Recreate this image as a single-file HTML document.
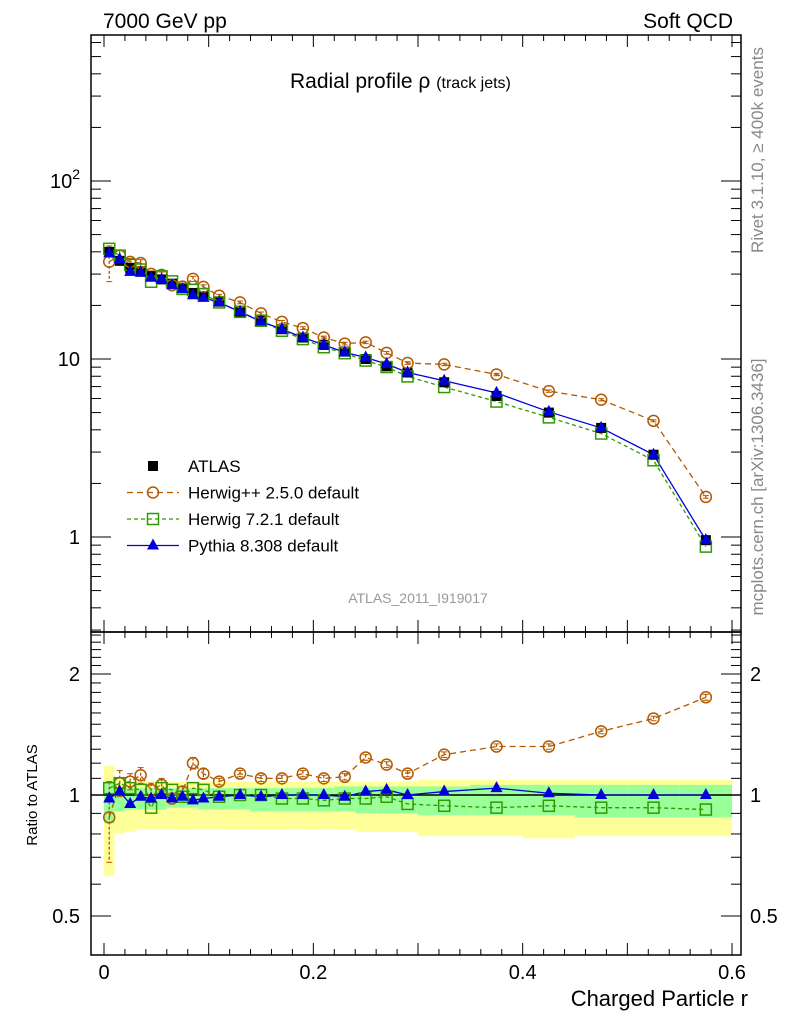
<!DOCTYPE html>
<html><head><meta charset="utf-8"><style>
body{margin:0;background:#fff}
svg{font-family:"Liberation Sans",sans-serif}
</style></head><body>
<svg id="c" width="786" height="1024" viewBox="0 0 786 1024" xmlns="http://www.w3.org/2000/svg">
<text x="103" y="28" font-size="21">7000 GeV pp</text>
<text x="733" y="28" font-size="21" text-anchor="end">Soft QCD</text>
<text x="290" y="88" font-size="21">Radial profile ρ <tspan font-size="16">(track jets)</tspan></text>
<text x="418" y="603" font-size="14" fill="#999" text-anchor="middle">ATLAS_2011_I919017</text>
<text transform="translate(763,150) rotate(-90)" font-size="17" fill="#888" text-anchor="middle">Rivet 3.1.10, ≥ 400k events</text>
<text transform="translate(763,487) rotate(-90)" font-size="17" fill="#888" text-anchor="middle">mcplots.cern.ch [arXiv:1306.3436]</text>
<text transform="translate(37,795) rotate(-90)" font-size="15" text-anchor="middle">Ratio to ATLAS</text>
<text x="748" y="1006" font-size="22" text-anchor="end">Charged Particle r</text>
<g id="g"></g>
</svg>
<script>
const xs=[0.005,0.015,0.025,0.035,0.045,0.055,0.065,0.075,0.085,0.095,0.11,0.13,0.15,0.17,0.19,0.21,0.23,0.25,0.27,0.29,0.325,0.375,0.425,0.475,0.525,0.575];
const atlas=[40,35.6,32.5,30.9,29.2,28,26.5,25,23.5,22.5,21,18.4,16.4,14.7,13.2,12,11,10,9.1,8.4,7.4,6.2,5.0,4.1,2.9,0.96];
const herwigppRatio=[0.88,1.07,1.08,1.12,1.03,1.06,0.98,1.02,1.2,1.13,1.08,1.13,1.1,1.1,1.13,1.1,1.11,1.24,1.19,1.13,1.26,1.32,1.32,1.44,1.55,1.75];
const herwigppErr=[0.2,0.08,0.05,0.05,0.04,0.04,0.03,0.03,0.04,0.03,0.02,0.02,0.02,0.02,0.02,0.02,0.02,0.02,0.02,0.02,0.02,0.02,0.02,0.02,0.02,0.03];
const herwig7Ratio=[1.04,1.07,1.04,1.03,0.93,1.04,1.03,0.99,1.04,1.03,0.99,1.0,1.0,0.98,0.98,0.97,0.98,0.98,0.99,0.95,0.94,0.93,0.94,0.93,0.93,0.92];
const pythiaRatio=[0.98,1.02,0.95,0.99,0.98,1.0,0.98,0.99,0.97,0.98,0.99,1.0,0.99,1.0,1.0,1.0,0.99,1.02,1.03,1.0,1.02,1.04,1.01,1.0,1.0,1.0];
const yelLo=[0.63,0.80,0.81,0.82,0.82,0.82,0.82,0.82,0.82,0.82,0.82,0.82,0.82,0.82,0.82,0.82,0.82,0.81,0.81,0.81,0.79,0.79,0.78,0.79,0.79,0.79];
const yelHi=[1.18,1.09,1.08,1.08,1.08,1.08,1.08,1.08,1.08,1.08,1.08,1.08,1.08,1.08,1.08,1.08,1.08,1.08,1.08,1.08,1.09,1.09,1.09,1.09,1.09,1.09];
const grnLo=[0.85,0.91,0.92,0.92,0.92,0.92,0.93,0.93,0.93,0.92,0.92,0.92,0.91,0.91,0.91,0.91,0.91,0.90,0.90,0.90,0.89,0.89,0.89,0.88,0.88,0.88];
const grnHi=[1.07,1.04,1.04,1.04,1.04,1.04,1.04,1.04,1.04,1.04,1.04,1.04,1.04,1.04,1.04,1.04,1.05,1.05,1.05,1.05,1.05,1.06,1.06,1.06,1.06,1.06];
const xTicks=[0,0.2,0.4,0.6];
const ratioTicks=[0.5,1,2];

const L=91,R=741,T=35,MB=632,RB=955;
const X=v=>104+v*1046.7;
const Y=v=>537-Math.log10(v)*178;
const RY=v=>795-Math.log2(v)*121;
const g=document.getElementById('g');
const NS='http://www.w3.org/2000/svg';
function mk(t,a,p){const e=document.createElementNS(NS,t);for(const k in a)e.setAttribute(k,a[k]);(p||g).appendChild(e);return e;}
function edges(i){if(xs[i]<0.1)return[xs[i]-0.005,xs[i]+0.005]; if(xs[i]<0.3)return[xs[i]-0.01,xs[i]+0.01]; return[xs[i]-0.025,xs[i]+0.025];}
xs.forEach((x,i)=>{const [a,b]=edges(i);
 let r=mk('rect',{x:X(a),y:RY(yelHi[i]),width:X(b)-X(a),height:RY(yelLo[i])-RY(yelHi[i]),fill:'#ffff99'});
 
 r=mk('rect',{x:X(a),y:RY(grnHi[i]),width:X(b)-X(a),height:RY(grnLo[i])-RY(grnHi[i]),fill:'#99ff99'});
 
});
mk('line',{x1:L,x2:R,y1:RY(1),y2:RY(1),stroke:'#000','stroke-width':1.5});
mk('rect',{x:L,y:T,width:R-L,height:MB-T,fill:'none',stroke:'#000','stroke-width':1.5});
mk('rect',{x:L,y:MB,width:R-L,height:RB-MB,fill:'none',stroke:'#000','stroke-width':1.5});
for(let k=0;k<=30;k++){const v=k*0.02;const px=X(v);if(px>R)break;const big=k%5==0;const len=big?12:6;
 [[MB,MB-len],[T,T+len],[RB,RB-len],[MB,MB+len]].forEach(([a,b])=>mk('line',{x1:px,x2:px,y1:a,y2:b,stroke:'#000'}));}
xTicks.forEach(v=>{const t=mk('text',{x:X(v),y:979,'font-size':20,'text-anchor':'middle'});t.textContent=v==0?'0':String(v);
 });
for(let d=-1;d<=2;d++)for(let m=1;m<=9;m++){const v=m*Math.pow(10,d);const py=Y(v);if(py<T||py>MB)continue;const len=m==1?20:10;
 mk('line',{x1:L,x2:L+len,y1:py,y2:py,stroke:'#000'});mk('line',{x1:R,x2:R-len,y1:py,y2:py,stroke:'#000'});}
[[1,'1'],[10,'10']].forEach(([v,s])=>{const t=mk('text',{x:80,y:Y(v)+7,'font-size':20,'text-anchor':'end'});t.textContent=s;
 });
{const t=mk('text',{x:80,y:Y(100)+7,'font-size':20,'text-anchor':'end'});t.innerHTML='10<tspan dy="-9" font-size="14">2</tspan>';
 }
for(let k=4;k<=25;k++){const v=k/10;const py=RY(v);if(py<MB||py>RB)continue;const big=(v==0.5||v==1||v==2);const len=big?20:10;
 mk('line',{x1:L,x2:L+len,y1:py,y2:py,stroke:'#000'});mk('line',{x1:R,x2:R-len,y1:py,y2:py,stroke:'#000'});}
ratioTicks.forEach(v=>{[[80,'end'],[750,'start']].forEach(([x,a])=>{const t=mk('text',{x:x,y:RY(v)+7,'font-size':20,'text-anchor':a});t.textContent=String(v);
 });});
const series=[
 {name:'herwigpp',r:herwigppRatio,c:'#b35900',dash:'6,4',m:'circ'},
 {name:'herwig7',r:herwig7Ratio,c:'#339900',dash:'4,3',m:'sq'},
 {name:'pythia',r:pythiaRatio,c:'#0000dd',dash:'',m:'tri'}];
function marker(m,x,y,c,name){let e;
 if(m=='circ')e=mk('circle',{cx:x,cy:y,r:5.5,fill:'none',stroke:c,'stroke-width':1.5});
 else if(m=='sq')e=mk('rect',{x:x-5.5,y:y-5.5,width:11,height:11,fill:'none',stroke:c,'stroke-width':1.5});
 else if(m=='tri')e=mk('polygon',{points:`${x},${y-7} ${x-6},${y+4} ${x+6},${y+4}`,fill:c});
 else e=mk('rect',{x:x-5,y:y-5,width:10,height:10,fill:'#000'});
 }
// herwig++ error bars
xs.forEach((x,i)=>{const r=herwigppRatio[i],e=herwigppErr[i];
 [[RY(r+e),RY(r-e)],[Y((r+e)*atlas[i]),Y((r-e)*atlas[i])]].forEach(([a,b])=>{
  const l=mk('line',{x1:X(x),x2:X(x),y1:a,y2:b,stroke:'#b35900','stroke-width':1.3,'stroke-dasharray':'3,2'});
  
  mk('line',{x1:X(x)-3,x2:X(x)+3,y1:a,y2:a,stroke:'#b35900'});mk('line',{x1:X(x)-3,x2:X(x)+3,y1:b,y2:b,stroke:'#b35900'});});});
series.forEach(s=>{const vals=s.r.map((r,i)=>r*atlas[i]);
 const p1=mk('polyline',{points:xs.map((x,i)=>X(x)+','+Y(vals[i])).join(' '),fill:'none',stroke:s.c,'stroke-width':1.3,'stroke-dasharray':s.dash});
 
 const p2=mk('polyline',{points:xs.map((x,i)=>X(x)+','+RY(s.r[i])).join(' '),fill:'none',stroke:s.c,'stroke-width':1.3,'stroke-dasharray':s.dash});
 
});
xs.forEach((x,i)=>marker('sqf',X(x),Y(atlas[i]),'#000','atlas-point'));
series.forEach(s=>xs.forEach((x,i)=>{marker(s.m,X(x),Y(s.r[i]*atlas[i]),s.c,s.name+'-point');marker(s.m,X(x),RY(s.r[i]),s.c,s.name+'-ratio-point');}));
const leg=[['ATLAS','sqf','#000',''],['Herwig++ 2.5.0 default','circ','#b35900','6,4'],['Herwig 7.2.1 default','sq','#339900','4,3'],['Pythia 8.308 default','tri','#0000dd','']];
leg.forEach((l,i)=>{const y=466+i*26.5;
 if(i>0){const ln=mk('line',{x1:127,x2:179,y1:y,y2:y,stroke:l[2],'stroke-width':1.3,'stroke-dasharray':l[3]});}
 marker(l[1],153,y,l[2],'legend-marker');
 const t=mk('text',{x:188,y:y+6,'font-size':17});t.textContent=l[0];
 });
</script>
</body></html>
